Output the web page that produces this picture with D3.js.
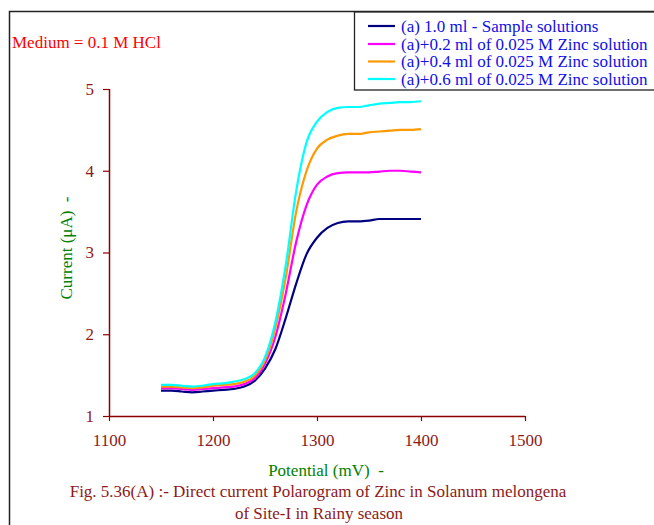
<!DOCTYPE html>
<html><head><meta charset="utf-8">
<script src="https://cdn.jsdelivr.net/npm/d3@7"></script>
<style>body{margin:0;background:#fff}svg{display:block}text{font-family:"Liberation Serif","Times New Roman",serif}</style>
</head><body><svg id="c" width="654" height="525"></svg>
<script>
const potentials = [1150,1160,1170,1180,1190,1200,1210,1220,1230,1240,1250,1260,1270,1280,1290,1300,1310,1320,1330,1340,1350,1360,1370,1380,1390,1400];
const sampleA = [1.31,1.31,1.30,1.29,1.30,1.31,1.32,1.33,1.36,1.43,1.58,1.82,2.20,2.62,2.98,3.18,3.30,3.36,3.38,3.38,3.39,3.41,3.41,3.41,3.41,3.41];
const zinc02 = [1.34,1.34,1.33,1.32,1.33,1.34,1.35,1.36,1.39,1.46,1.64,1.97,2.50,3.13,3.58,3.83,3.93,3.97,3.98,3.98,3.98,3.99,4.00,4.00,3.99,3.98];
const zinc04 = [1.36,1.36,1.35,1.34,1.35,1.37,1.38,1.39,1.42,1.49,1.68,2.08,2.70,3.50,4.00,4.27,4.38,4.43,4.45,4.45,4.47,4.48,4.49,4.50,4.50,4.51];
const zinc06 = [1.38,1.38,1.37,1.36,1.37,1.39,1.40,1.42,1.45,1.52,1.72,2.15,2.85,3.75,4.35,4.60,4.72,4.77,4.78,4.78,4.80,4.82,4.83,4.84,4.84,4.85];
const seriesNames = ["(a) 1.0 ml - Sample solutions","(a)+0.2 ml of 0.025 M Zinc solution","(a)+0.4 ml of 0.025 M Zinc solution","(a)+0.6 ml of 0.025 M Zinc solution"];
const seriesColors = ["#000080","#ff00ff","#ff9900","#00ffff"];
const xTicks = [1100,1200,1300,1400,1500];
const yTicks = [1,2,3,4,5];

const svg = d3.select("#c");
const axisColor = "#8b0000", labelColor = "#8b1a1a";
const FS = 17;
const x = d3.scaleLinear().domain([1100,1500]).range([109,525]);
const y = d3.scaleLinear().domain([1,5]).range([416,89]);

// outer frame
svg.append("path").attr("d","M9.5,525 V11.5 H654").attr("fill","none").attr("stroke","#222").attr("stroke-width",1.5);

// medium label
svg.append("text").attr("x",12).attr("y",48).attr("fill","#ff0000").attr("font-size",FS).text("Medium = 0.1 M HCl");

// axes
const xAxis = svg.append("g").attr("transform","translate(0,416)")
  .call(d3.axisBottom(x).tickValues(xTicks).tickSize(5).tickPadding(13).tickFormat(d3.format("d")));
const yAxis = svg.append("g").attr("transform","translate(109,0)")
  .call(d3.axisLeft(y).tickValues(yTicks).tickSize(6).tickPadding(9).tickFormat(d3.format("d")));
[xAxis,yAxis].forEach(g=>{
  g.select(".domain").attr("stroke",axisColor).attr("stroke-width",1.5);
  g.selectAll(".tick line").attr("stroke",axisColor).attr("stroke-width",1.2);
  g.selectAll(".tick text").attr("fill",labelColor).attr("font-size",FS).attr("font-family","Liberation Serif, serif");
});
xAxis.select(".domain").attr("d","M109,0.5H525");
yAxis.select(".domain").attr("d","M0.5,89V416");

// lines
const allSeries = [sampleA,zinc02,zinc04,zinc06];
const line = d3.line().x((d,i)=>x(potentials[i])).y(d=>y(d)).curve(d3.curveMonotoneX);
allSeries.forEach((s,k)=>{
  svg.append("path").datum(s).attr("d",line).attr("fill","none")
    .attr("stroke",seriesColors[k]).attr("stroke-width",2.2).attr("stroke-linejoin","round");
});

// axis titles
svg.append("text").attr("transform","translate(66,248) rotate(-90)").attr("text-anchor","middle")
  .attr("dominant-baseline","central").attr("fill","#008000").attr("font-size",FS).style("white-space","pre")
  .text("Current (\u03bcA)  -");
svg.append("text").attr("x",326).attr("y",476).attr("text-anchor","middle").attr("fill","#008000")
  .attr("font-size",FS).style("white-space","pre").text("Potential (mV)  -");

// caption
svg.append("text").attr("x",318).attr("y",497).attr("text-anchor","middle").attr("fill",labelColor)
  .attr("font-size",FS).text("Fig. 5.36(A) :- Direct current Polarogram of Zinc in Solanum melongena");
svg.append("text").attr("x",319).attr("y",519).attr("text-anchor","middle").attr("fill",labelColor)
  .attr("font-size",FS).text("of Site-I in Rainy season");

// legend
const lg = svg.append("g");
lg.append("rect").attr("x",354.5).attr("y",12).attr("width",320).attr("height",78)
  .attr("fill","#fff").attr("stroke","#222").attr("stroke-width",1.3);
const rowY = [26,44,61.5,79];
seriesNames.forEach((n,k)=>{
  lg.append("line").attr("x1",368).attr("x2",395).attr("y1",rowY[k]).attr("y2",rowY[k])
    .attr("stroke",seriesColors[k]).attr("stroke-width",2.2);
  lg.append("text").attr("x",401).attr("y",rowY[k]).attr("dominant-baseline","central")
    .attr("fill","#1010e8").attr("font-size",FS).text(n);
});
</script></body></html>
